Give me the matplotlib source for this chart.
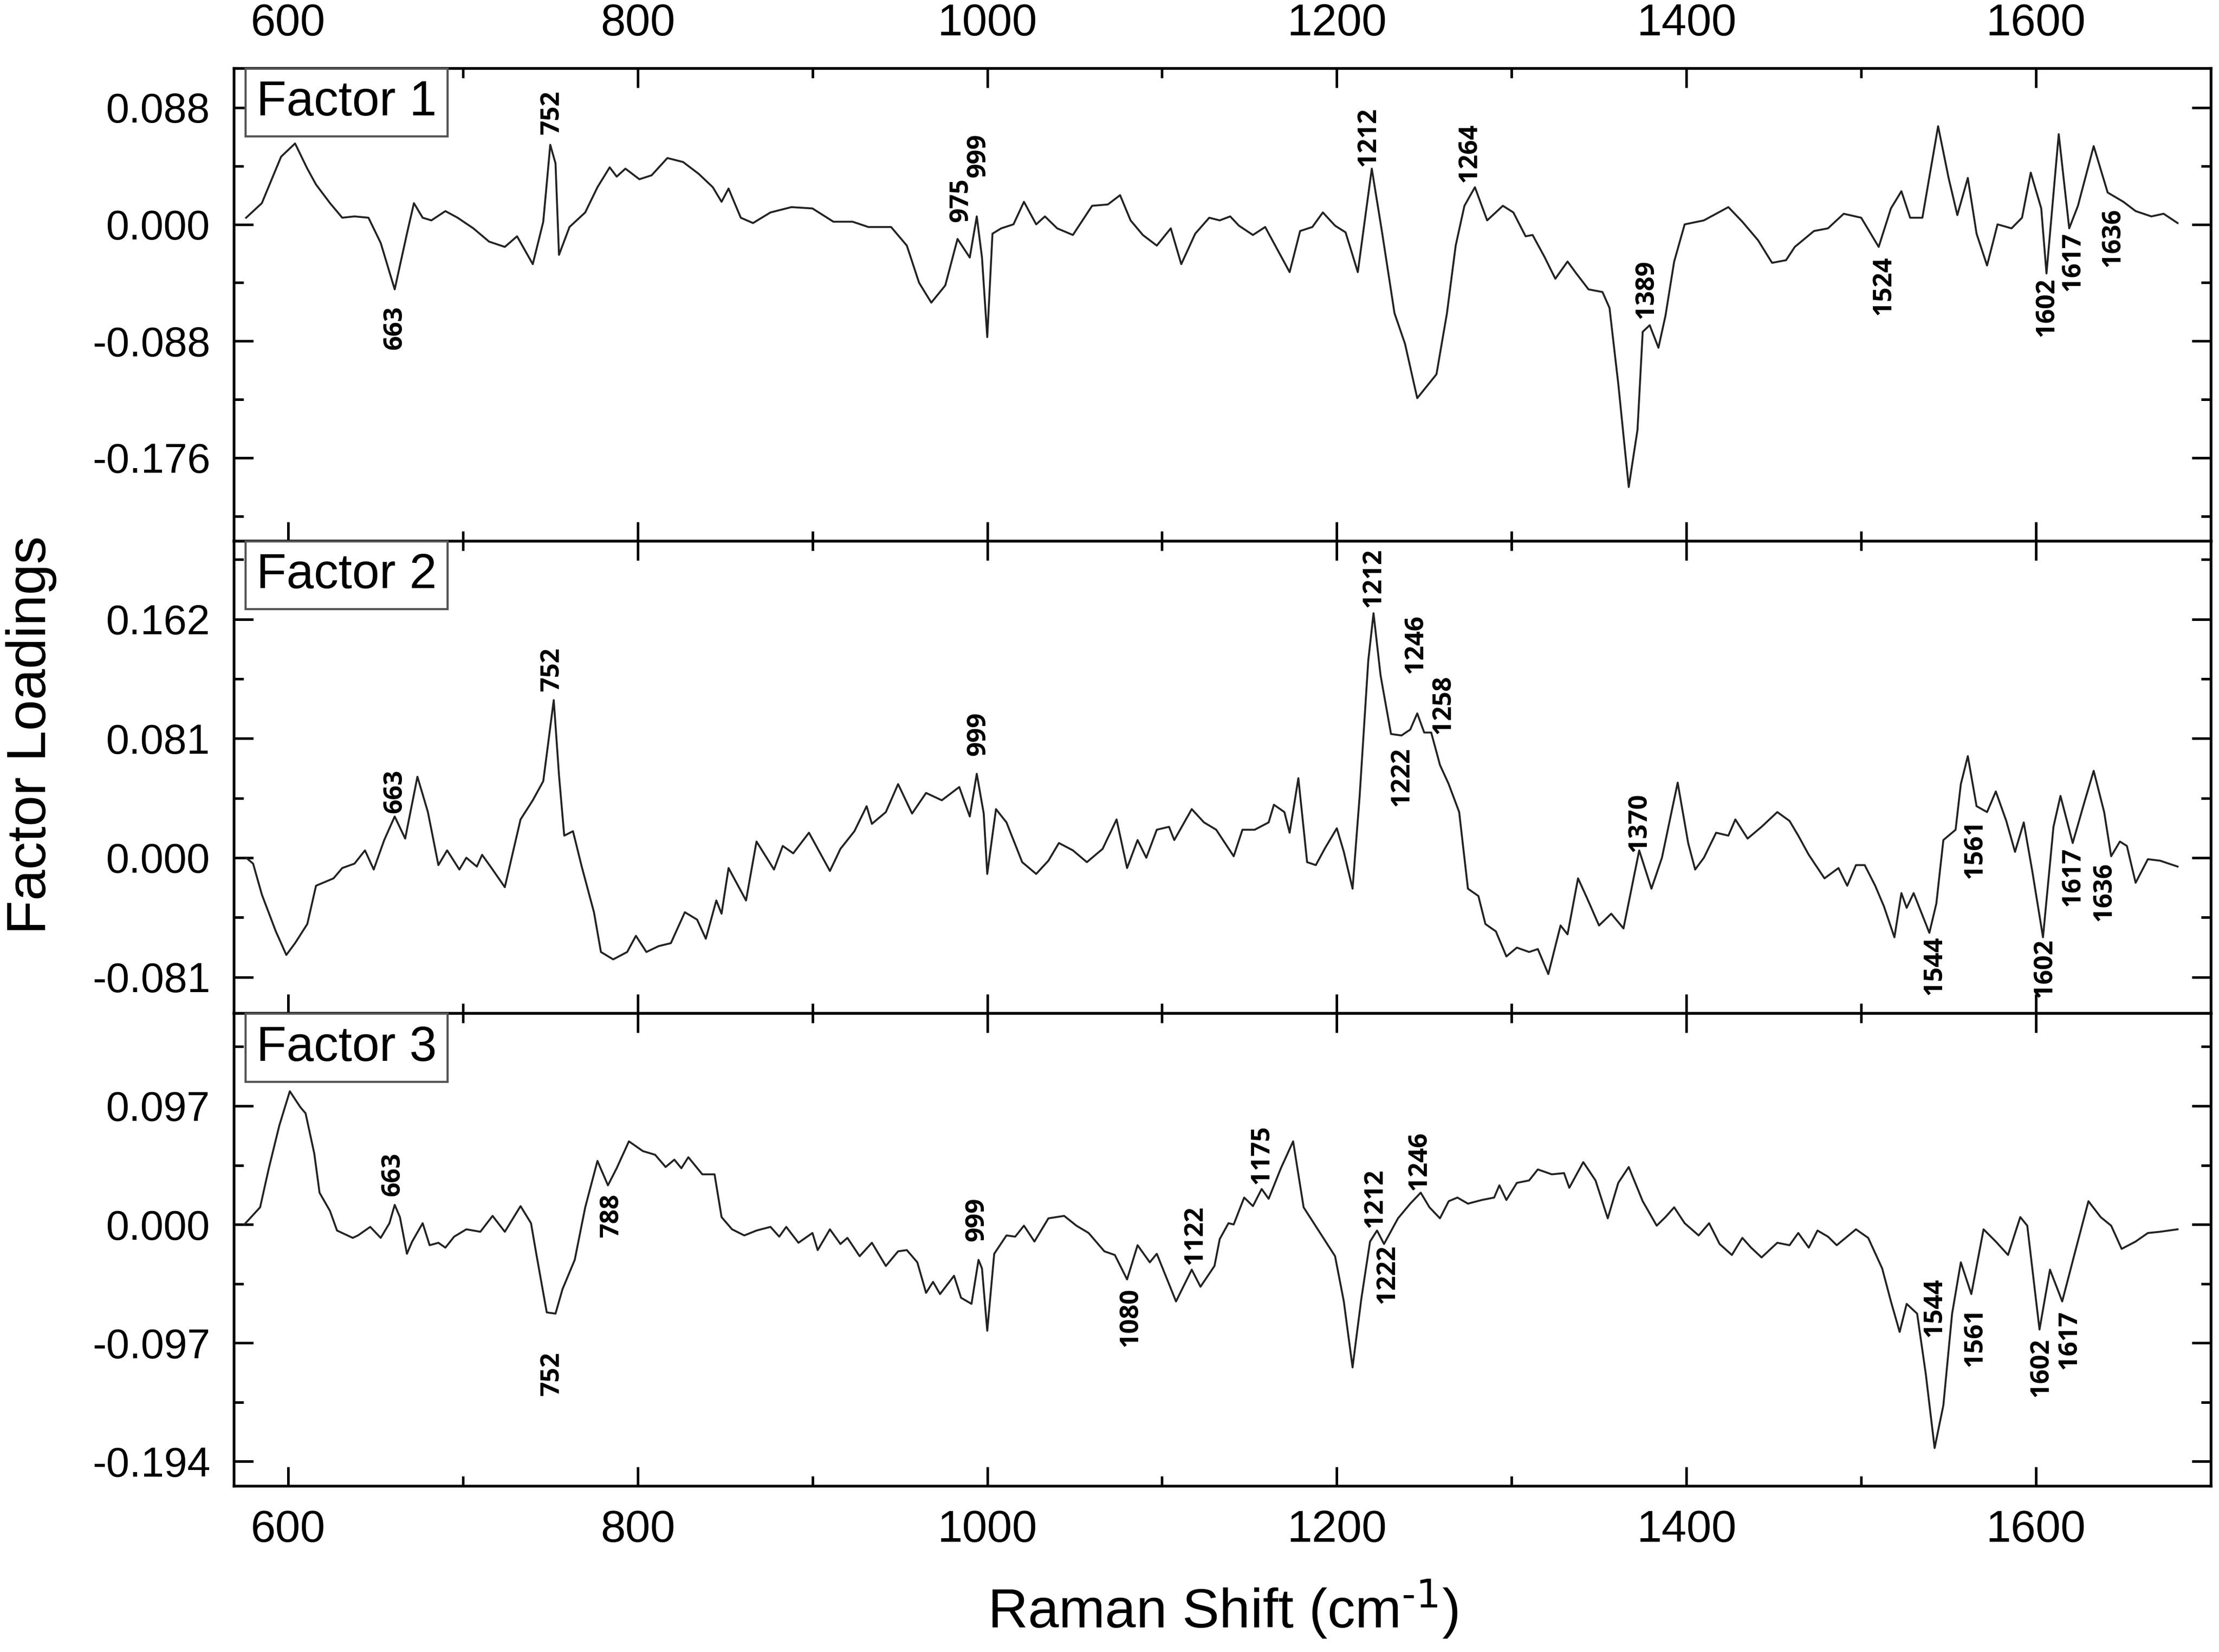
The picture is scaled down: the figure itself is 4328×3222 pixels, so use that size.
import numpy as np
import matplotlib
matplotlib.use('Agg')
import matplotlib.pyplot as plt
from matplotlib.ticker import FixedLocator

plt.rcParams['font.family'] = ['Liberation Sans', 'DejaVu Sans']
plt.rcParams['mathtext.default'] = 'regular'

# ---- data (Raman shift in cm-1, factor loading) ----
f1_x = [576, 585, 596, 604, 611, 616, 624, 631, 638, 646, 653, 661, 668, 672, 677, 682, 690, 697,
        706, 715, 724, 731, 740, 746, 750, 753, 755, 761, 770, 777, 784, 788, 793, 801, 808, 817,
        826, 835, 843, 848, 852, 859, 866, 876, 888, 900, 912, 923, 932, 945, 954, 961, 968, 976,
        983, 990, 994, 997, 1000, 1003, 1008, 1015, 1021, 1028, 1033, 1040, 1049, 1060, 1069, 1076,
        1082, 1089, 1097, 1105, 1111, 1119, 1127, 1133, 1139, 1144, 1152, 1159, 1166, 1173, 1179,
        1186, 1192, 1199, 1205, 1212, 1220, 1226, 1233, 1239, 1246, 1257, 1263, 1268, 1273, 1279,
        1286, 1295, 1301, 1308, 1312, 1319, 1325, 1332, 1337, 1344, 1352, 1356, 1361, 1367, 1372,
        1375, 1379, 1384, 1388, 1393, 1399, 1410, 1417, 1424, 1432, 1441, 1449, 1457, 1462, 1473,
        1481, 1490, 1500, 1510, 1517, 1523, 1528, 1535, 1544, 1550, 1555, 1561, 1566, 1572, 1578,
        1586, 1592, 1597, 1603, 1606, 1613, 1619, 1624, 1633, 1641, 1650, 1657, 1666, 1673, 1681]
f1_y = [0.005, 0.016, 0.051, 0.061, 0.042, 0.030, 0.016, 0.005, 0.006, 0.005, -0.014, -0.049,
        -0.007, 0.016, 0.005, 0.003, 0.010, 0.005, -0.003, -0.013, -0.017, -0.009, -0.030, 0.002,
        0.060, 0.046, -0.023, -0.002, 0.009, 0.028, 0.043, 0.036, 0.042, 0.034, 0.037, 0.050,
        0.047, 0.038, 0.028, 0.017, 0.027, 0.005, 0.001, 0.009, 0.013, 0.012, 0.002, 0.002,
        -0.002, -0.002, -0.016, -0.044, -0.059, -0.046, -0.011, -0.025, 0.006, -0.025, -0.085,
        -0.007, -0.003, 0.000, 0.017, 0.000, 0.006, -0.003, -0.008, 0.014, 0.015, 0.022, 0.003,
        -0.008, -0.016, -0.003, -0.030, -0.007, 0.005, 0.003, 0.006, -0.001, -0.008, -0.002,
        -0.019, -0.036, -0.005, -0.002, 0.009, -0.001, -0.006, -0.036, 0.042, -0.007, -0.067,
        -0.090, -0.131, -0.113, -0.067, -0.016, 0.014, 0.028, 0.003, 0.014, 0.009, -0.009, -0.008,
        -0.025, -0.041, -0.028, -0.037, -0.049, -0.051, -0.063, -0.120, -0.198, -0.155, -0.081,
        -0.076, -0.093, -0.069, -0.028, 0.000, 0.003, 0.008, 0.013, 0.002, -0.012, -0.029, -0.027,
        -0.017, -0.005, -0.003, 0.008, 0.005, -0.017, 0.012, 0.025, 0.005, 0.005, 0.074, 0.035,
        0.007, 0.035, -0.007, -0.031, 0.000, -0.003, 0.005, 0.039, 0.012, -0.037, 0.068, -0.003,
        0.014, 0.059, 0.024, 0.017, 0.010, 0.006, 0.008, 0.001]

f2_x = [576, 580, 585, 593, 599, 604, 611, 616, 626, 631, 638, 644, 649, 655, 661, 667, 674, 680,
        686, 691, 698, 702, 708, 711, 717, 724, 733, 740, 746, 752, 755, 758, 763, 768, 775, 779,
        786, 794, 799, 805, 812, 819, 827, 834, 839, 845, 848, 852, 857, 862, 868, 878, 883, 889,
        898, 910, 916, 924, 931, 934, 942, 949, 957, 965, 974, 984, 990, 994, 998, 1000, 1005,
        1011, 1020, 1028, 1035, 1041, 1049, 1057, 1066, 1074, 1080, 1086, 1091, 1097, 1104, 1107,
        1117, 1124, 1131, 1141, 1146, 1153, 1161, 1164, 1170, 1173, 1178, 1183, 1188, 1193, 1200,
        1204, 1209, 1213, 1218, 1221, 1225, 1231, 1237, 1242, 1246, 1250, 1254, 1259, 1264, 1270,
        1275, 1281, 1285, 1291, 1297, 1303, 1310, 1315, 1321, 1328, 1332, 1338, 1343, 1350, 1357,
        1364, 1373, 1380, 1386, 1395, 1401, 1405, 1410, 1417, 1424, 1428, 1435, 1443, 1452, 1459,
        1464, 1470, 1479, 1487, 1492, 1497, 1502, 1508, 1513, 1519, 1523, 1526, 1530, 1539, 1543,
        1547, 1554, 1557, 1561, 1566, 1572, 1577, 1583, 1588, 1593, 1598, 1604, 1610, 1614, 1621,
        1628, 1633, 1639, 1643, 1648, 1652, 1657, 1664, 1671, 1681]
f2_y = [0.000, -0.004, -0.025, -0.050, -0.066, -0.058, -0.045, -0.019, -0.014, -0.007, -0.004,
        0.005, -0.008, 0.012, 0.028, 0.013, 0.055, 0.031, -0.005, 0.005, -0.008, 0.000, -0.006,
        0.002, -0.008, -0.020, 0.026, 0.039, 0.052, 0.107, 0.056, 0.015, 0.018, -0.006, -0.037,
        -0.064, -0.069, -0.064, -0.053, -0.064, -0.060, -0.058, -0.037, -0.042, -0.055, -0.029,
        -0.038, -0.007, -0.018, -0.029, 0.011, -0.008, 0.008, 0.003, 0.017, -0.009, 0.006, 0.018,
        0.035, 0.023, 0.031, 0.050, 0.030, 0.044, 0.039, 0.048, 0.028, 0.057, 0.030, -0.011,
        0.033, 0.024, -0.003, -0.011, -0.002, 0.010, 0.005, -0.003, 0.006, 0.026, -0.007, 0.012,
        0.000, 0.019, 0.021, 0.012, 0.033, 0.024, 0.019, 0.001, 0.019, 0.019, 0.024, 0.036,
        0.031, 0.017, 0.054, -0.003, -0.005, 0.006, 0.020, 0.004, -0.021, 0.041, 0.134, 0.166,
        0.124, 0.084, 0.083, 0.087, 0.098, 0.085, 0.085, 0.063, 0.050, 0.031, -0.021, -0.026,
        -0.045, -0.050, -0.067, -0.061, -0.064, -0.062, -0.079, -0.046, -0.052, -0.014, -0.027,
        -0.046, -0.038, -0.048, 0.005, -0.021, 0.000, 0.051, 0.010, -0.008, 0.000, 0.017, 0.015,
        0.026, 0.013, 0.021, 0.031, 0.025, 0.015, 0.002, -0.014, -0.007, -0.019, -0.005, -0.005,
        -0.019, -0.033, -0.054, -0.024, -0.034, -0.024, -0.051, -0.031, 0.012, 0.019, 0.050,
        0.069, 0.035, 0.031, 0.045, 0.025, 0.004, 0.024, -0.010, -0.054, 0.021, 0.042, 0.010,
        0.039, 0.059, 0.031, 0.001, 0.011, 0.008, -0.017, -0.001, -0.002, -0.006]

f3_x = [575, 584, 589, 595, 601, 607, 610, 615, 618, 624, 628, 637, 640, 647, 653, 658, 661, 664,
        668, 671, 677, 681, 686, 690, 695, 702, 710, 717, 724, 733, 739, 742, 748, 753, 757, 764,
        770, 777, 783, 788, 795, 803, 810, 816, 821, 825, 829, 837, 844, 848, 854, 861, 868, 876,
        881, 885, 892, 900, 903, 910, 916, 920, 927, 934, 942, 949, 954, 960, 965, 969, 973, 981,
        985, 991, 995, 997, 1000, 1004, 1011, 1016, 1021, 1027, 1035, 1044, 1051, 1058, 1067,
        1073, 1080, 1086, 1093, 1097, 1108, 1117, 1122, 1130, 1133, 1138, 1141, 1147, 1152, 1157,
        1161, 1168, 1175, 1181, 1190, 1199, 1204, 1209, 1214, 1219, 1223, 1227, 1235, 1242, 1248,
        1253, 1259, 1264, 1269, 1275, 1283, 1290, 1293, 1297, 1303, 1310, 1315, 1323, 1330, 1333,
        1341, 1348, 1355, 1361, 1367, 1375, 1383, 1388, 1393, 1399, 1407, 1413, 1419, 1426, 1432,
        1437, 1443, 1452, 1459, 1464, 1470, 1475, 1481, 1486, 1497, 1504, 1512, 1517, 1522, 1526,
        1532, 1537, 1542, 1547, 1552, 1557, 1563, 1570, 1577, 1584, 1591, 1595, 1602, 1608, 1615,
        1623, 1630, 1637, 1643, 1649, 1657, 1664, 1671, 1681]
f3_y = [0.000, 0.014, 0.046, 0.081, 0.109, 0.096, 0.091, 0.058, 0.026, 0.011, -0.005, -0.011,
        -0.009, -0.002, -0.011, 0.001, 0.016, 0.006, -0.024, -0.014, 0.001, -0.017, -0.015,
        -0.019, -0.010, -0.004, -0.006, 0.007, -0.006, 0.015, 0.001, -0.024, -0.072, -0.073,
        -0.053, -0.029, 0.014, 0.052, 0.032, 0.046, 0.068, 0.060, 0.057, 0.047, 0.053, 0.046,
        0.055, 0.041, 0.041, 0.006, -0.004, -0.009, -0.005, -0.002, -0.010, -0.002, -0.015,
        -0.007, -0.021, -0.004, -0.016, -0.011, -0.026, -0.015, -0.034, -0.022, -0.021, -0.031,
        -0.056, -0.047, -0.057, -0.042, -0.060, -0.065, -0.029, -0.036, -0.087, -0.024, -0.009,
        -0.010, -0.001, -0.014, 0.005, 0.007, -0.001, -0.007, -0.022, -0.025, -0.045, -0.017,
        -0.031, -0.024, -0.063, -0.037, -0.051, -0.034, -0.012, 0.001, 0.000, 0.022, 0.015,
        0.029, 0.021, 0.046, 0.068, 0.014, -0.006, -0.026, -0.063, -0.117, -0.061, -0.014,
        -0.005, -0.016, 0.005, 0.017, 0.026, 0.014, 0.005, 0.019, 0.022, 0.017, 0.020, 0.022,
        0.032, 0.020, 0.034, 0.036, 0.045, 0.041, 0.042, 0.030, 0.051, 0.036, 0.005, 0.034,
        0.047, 0.019, -0.001, 0.006, 0.014, 0.001, -0.009, 0.001, -0.016, -0.025, -0.011,
        -0.019, -0.027, -0.015, -0.017, -0.007, -0.019, -0.005, -0.010, -0.017, -0.004, -0.011,
        -0.036, -0.063, -0.088, -0.065, -0.073, -0.123, -0.183, -0.148, -0.073, -0.031, -0.057,
        -0.004, -0.014, -0.025, 0.006, -0.001, -0.086, -0.037, -0.063, -0.019, 0.019, 0.006,
        -0.001, -0.020, -0.014, -0.007, -0.006, -0.004]

# peak labels (text, x, y of label centre)
f1_labels = [('663', 661, -0.078), ('752', 751, 0.0845), ('975', 985, 0.0185), ('999', 995, 0.052),
             ('1212', 1218, 0.066), ('1264', 1276, 0.054), ('1389', 1377, -0.049),
             ('1524', 1513, -0.046), ('1602', 1606, -0.0625), ('1617', 1621, -0.028),
             ('1636', 1644, -0.0097)]
f2_labels = [('663', 661, 0.045), ('752', 751, 0.128), ('999', 995, 0.084), ('1212', 1221, 0.190),
             ('1246', 1245, 0.145), ('1258', 1261, 0.104), ('1222', 1237, 0.055),
             ('1370', 1373, 0.024), ('1561', 1565, 0.006), ('1544', 1542, -0.073),
             ('1602', 1605, -0.075), ('1617', 1621, -0.013), ('1636', 1639, -0.023)]
f3_labels = [('663', 660, 0.041), ('752', 751, -0.122), ('788', 785, 0.0075), ('999', 994, 0.004),
             ('1080', 1082, -0.076), ('1122', 1119, -0.0087), ('1175', 1157, 0.057),
             ('1212', 1222, 0.0216), ('1246', 1247, 0.052), ('1222', 1229, -0.0405),
             ('1544', 1542, -0.068), ('1561', 1565, -0.092), ('1602', 1603, -0.117),
             ('1617', 1619, -0.0945)]

f1_ticks = [0.088, 0.000, -0.088, -0.176]
f2_ticks = [0.162, 0.081, 0.000, -0.081]
f3_ticks = [0.097, 0.000, -0.097, -0.194]

panels = [
    ('Factor 1', f1_x, f1_y, f1_labels, f1_ticks, (-0.2385, 0.1177)),
    ('Factor 2', f2_x, f2_y, f2_labels, f2_ticks, (-0.1056, 0.2152)),
    ('Factor 3', f3_x, f3_y, f3_labels, f3_ticks, (-0.2139, 0.1728)),
]

fig = plt.figure(figsize=(4328 / 300, 3222 / 300), dpi=300)
axes = fig.subplots(3, 1, sharex=True)
fig.subplots_adjust(left=0.1054, right=0.9963, top=0.9587, bottom=0.1006, hspace=0)

for ax, (name, xs, ys, labels, ticks, ylim) in zip(axes, panels):
    ax.plot(xs, ys, color='#222222', lw=0.9)
    ax.set_xlim(569, 1700)
    ax.set_ylim(*ylim)
    step = ticks[0] - ticks[1]
    ax.set_yticks(ticks)
    ax.set_yticklabels(['%.3f' % t for t in ticks])
    minor = [t - step / 2 for t in ticks] + [ticks[0] + step / 2]
    ax.yaxis.set_minor_locator(FixedLocator([m for m in minor if ylim[0] < m < ylim[1]]))
    ax.set_xticks([600, 800, 1000, 1200, 1400, 1600])
    ax.xaxis.set_minor_locator(FixedLocator([700, 900, 1100, 1300, 1500]))
    ax.tick_params(which='both', direction='in', top=True, right=True, width=1.2)
    ax.tick_params(which='major', length=9, pad=11)
    ax.tick_params(which='minor', length=4.5)
    ax.tick_params(axis='y', labelsize=19.5)
    ax.tick_params(axis='x', labelsize=21)
    for sp in ax.spines.values():
        sp.set_linewidth(1.3)

    ax.text(0.057, 0.927, name, transform=ax.transAxes, ha='center', va='center', fontsize=23,
            bbox=dict(boxstyle='square,pad=0.22', fc='white', ec='#555555', lw=1.0), zorder=5)

    for s, lx, ly in labels:
        ax.text(lx, ly, s, rotation=90, ha='center', va='center', fontsize=12,
                fontweight='bold', family=['Open Sans', 'DejaVu Sans'])

axes[0].tick_params(axis='x', labeltop=True, labelbottom=False)
axes[2].tick_params(axis='x', labelbottom=True)

fig.text(0.014, 0.555, 'Factor Loadings', rotation=90, ha='center', va='center', fontsize=26)
fig.text(0.551, 0.026, r'Raman Shift (cm$^{\text{-1}}$)', ha='center', va='center', fontsize=26)

fig.savefig('out.png', dpi=300)
